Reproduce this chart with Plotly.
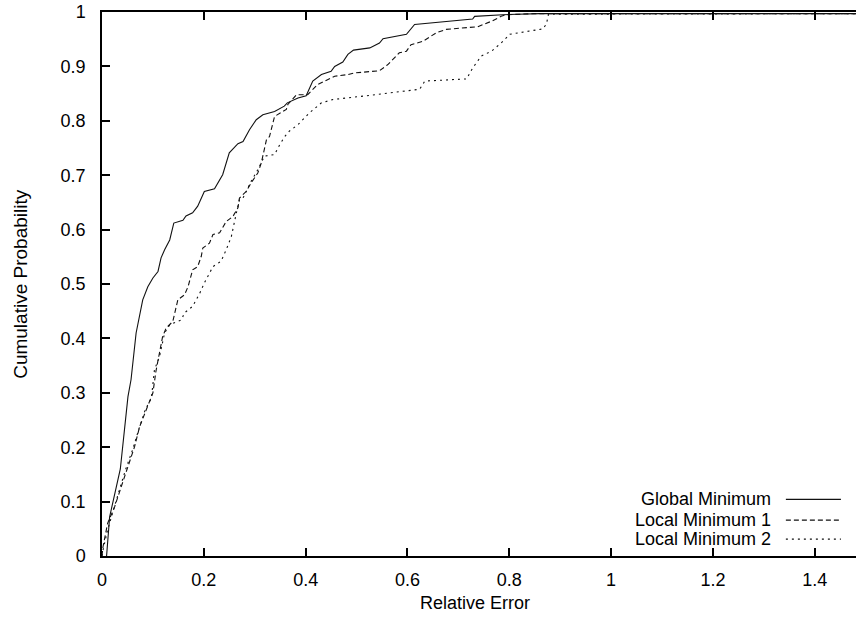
import plotly.graph_objects as go

# Empirical CDFs of the relative error for the three solutions
global_x = [0.009, 0.015, 0.036, 0.044, 0.051, 0.057, 0.067, 0.080, 0.090, 0.100, 0.110,
            0.116, 0.123, 0.133, 0.141, 0.159, 0.165, 0.178, 0.188, 0.201, 0.221, 0.237,
            0.250, 0.267, 0.277, 0.290, 0.303, 0.316, 0.339, 0.358, 0.364, 0.385, 0.401,
            0.414, 0.431, 0.450, 0.457, 0.473, 0.483, 0.494, 0.526, 0.545, 0.552, 0.598,
            0.614, 0.728, 0.732, 0.787, 0.860, 1.50]
global_y = [0.0, 0.072, 0.160, 0.232, 0.293, 0.324, 0.410, 0.471, 0.495, 0.511, 0.523,
            0.548, 0.563, 0.581, 0.612, 0.617, 0.625, 0.631, 0.643, 0.670, 0.675, 0.701,
            0.741, 0.758, 0.762, 0.784, 0.802, 0.811, 0.817, 0.827, 0.833, 0.842, 0.846,
            0.873, 0.885, 0.891, 0.900, 0.908, 0.922, 0.930, 0.934, 0.943, 0.951, 0.959,
            0.977, 0.987, 0.992, 0.995, 0.997, 0.997]

local1_x = [0.0, 0.002, 0.011, 0.025, 0.038, 0.051, 0.064, 0.074, 0.090, 0.100, 0.106, 0.119,
            0.126, 0.139, 0.149, 0.162, 0.169, 0.178, 0.188, 0.195, 0.198, 0.211, 0.218,
            0.231, 0.244, 0.257, 0.267, 0.270, 0.283, 0.293, 0.306, 0.313, 0.323, 0.329,
            0.339, 0.352, 0.362, 0.365, 0.382, 0.404, 0.414, 0.424, 0.444, 0.457, 0.483,
            0.496, 0.545, 0.561, 0.584, 0.598, 0.607, 0.630, 0.657, 0.676, 0.738, 0.765,
            0.784, 0.794, 0.850, 1.50]
local1_y = [0.0, 0.017, 0.060, 0.091, 0.128, 0.164, 0.201, 0.238, 0.275, 0.300, 0.340, 0.403,
            0.419, 0.431, 0.471, 0.480, 0.495, 0.526, 0.532, 0.551, 0.566, 0.575, 0.591,
            0.594, 0.615, 0.624, 0.640, 0.658, 0.670, 0.686, 0.704, 0.723, 0.765, 0.771,
            0.808, 0.815, 0.821, 0.830, 0.848, 0.848, 0.857, 0.867, 0.876, 0.882, 0.885,
            0.888, 0.892, 0.903, 0.925, 0.928, 0.940, 0.946, 0.962, 0.968, 0.973, 0.983,
            0.992, 0.995, 0.997, 0.997]

local2_x = [0.0, 0.002, 0.011, 0.021, 0.034, 0.046, 0.060, 0.072, 0.085, 0.097, 0.103, 0.113,
            0.123, 0.133, 0.156, 0.162, 0.178, 0.192, 0.201, 0.218, 0.234, 0.244, 0.254,
            0.264, 0.270, 0.277, 0.283, 0.293, 0.306, 0.313, 0.319, 0.339, 0.349, 0.359,
            0.368, 0.385, 0.408, 0.431, 0.453, 0.519, 0.624, 0.634, 0.716, 0.728, 0.745,
            0.765, 0.784, 0.801, 0.846, 0.866, 0.873, 0.877, 1.50]
local2_y = [0.0, 0.011, 0.048, 0.081, 0.121, 0.158, 0.195, 0.232, 0.269, 0.290, 0.342, 0.367,
            0.410, 0.425, 0.434, 0.447, 0.459, 0.483, 0.502, 0.532, 0.542, 0.563, 0.587,
            0.631, 0.655, 0.658, 0.670, 0.689, 0.710, 0.723, 0.735, 0.738, 0.756, 0.771,
            0.781, 0.793, 0.815, 0.833, 0.839, 0.846, 0.858, 0.873, 0.877, 0.897, 0.919,
            0.928, 0.943, 0.959, 0.965, 0.969, 0.978, 0.996, 0.997]

series_names = ["Global Minimum", "Local Minimum 1", "Local Minimum 2"]
x_ticks = [0, 0.2, 0.4, 0.6, 0.8, 1.0, 1.2, 1.4]
x_tick_text = ["0", "0.2", "0.4", "0.6", "0.8", "1", "1.2", "1.4"]
y_ticks = [0, 0.1, 0.2, 0.3, 0.4, 0.5, 0.6, 0.7, 0.8, 0.9, 1.0]
y_tick_text = ["0", "0.1", "0.2", "0.3", "0.4", "0.5", "0.6", "0.7", "0.8", "0.9", "1"]

FONT = "Liberation Sans, Arial, sans-serif"
FS = 18
dashes = ["solid", "5px,3px", "2px,4px"]
line_color = "#111111"

fig = go.Figure()
for xs, ys, name, dash in zip([global_x, local1_x, local2_x],
                              [global_y, local1_y, local2_y],
                              series_names, dashes):
    fig.add_trace(go.Scatter(x=xs, y=ys, mode="lines", name=name,
                             line=dict(color=line_color, width=1.1, dash=dash),
                             showlegend=False))

# gnuplot-style key: right-aligned labels with line samples to their right
key_rows = [0.104, 0.066, 0.031]
for name, dash, ky in zip(series_names, dashes, key_rows):
    fig.add_annotation(x=0.890, y=ky, xref="paper", yref="paper", text=name,
                       showarrow=False, xanchor="right", yanchor="middle",
                       font=dict(family=FONT, size=FS, color="black"))
    fig.add_shape(type="line", xref="paper", yref="paper",
                  x0=0.907, x1=0.980, y0=ky, y1=ky,
                  line=dict(color=line_color, width=1.1, dash=dash))

# axis titles
fig.add_annotation(x=0.495, y=-0.086, xref="paper", yref="paper", text="Relative Error",
                   showarrow=False, xanchor="center", yanchor="middle",
                   font=dict(family=FONT, size=FS, color="black"))
fig.add_annotation(x=-0.109, y=0.5, xref="paper", yref="paper", text="Cumulative Probability",
                   showarrow=False, xanchor="center", yanchor="middle", textangle=-90,
                   font=dict(family=FONT, size=19, color="black"))

fig.update_layout(
    width=856, height=619,
    margin=dict(l=102, r=0, t=12, b=63),
    paper_bgcolor="white", plot_bgcolor="white",
    font=dict(family=FONT, size=FS, color="black"),
    xaxis=dict(range=[0, 1.481], tickvals=x_ticks, ticktext=x_tick_text,
               ticks="inside", ticklen=8, tickwidth=1.5, tickcolor="black",
               showline=True, linecolor="black", linewidth=1.5, mirror="ticks",
               showgrid=False, zeroline=False, ticklabelstandoff=7),
    yaxis=dict(range=[0, 1], tickvals=y_ticks, ticktext=y_tick_text,
               ticks="inside", ticklen=8, tickwidth=1.5, tickcolor="black",
               showline=True, linecolor="black", linewidth=1.5, mirror=False,
               showgrid=False, zeroline=False, ticklabelstandoff=11),
)

fig.write_html("out.html")
